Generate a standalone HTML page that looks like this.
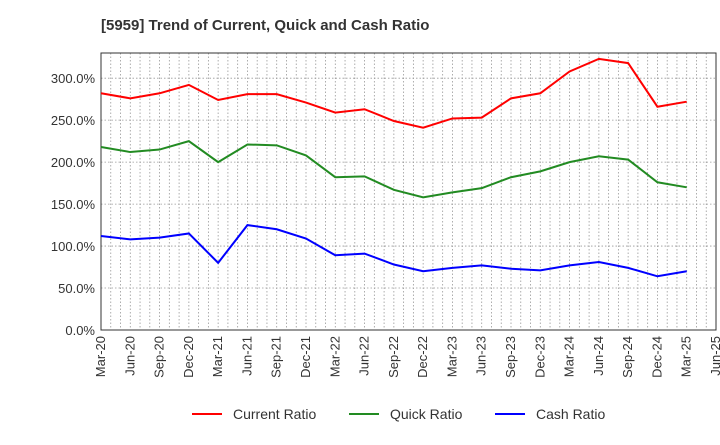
<!DOCTYPE html>
<html><head><meta charset="utf-8"><style>
body{margin:0;background:#fff;font-family:"Liberation Sans",Arial,sans-serif}
</style></head><body>
<svg id="chart" width="720" height="440" xmlns="http://www.w3.org/2000/svg" font-family="Liberation Sans, Arial, sans-serif">
<text x="101" y="30" font-size="15" font-weight="bold" fill="#333">[5959]  Trend of Current, Quick and Cash Ratio</text>
<g id="grid"></g><g id="axes"></g><g id="series"></g>
<g>
<line x1="192" y1="414" x2="222" y2="414" stroke="#f00" stroke-width="2"/><text x="233" y="419" font-size="14" fill="#333">Current Ratio</text>
<line x1="349" y1="414" x2="379" y2="414" stroke="#228b22" stroke-width="2"/><text x="390" y="419" font-size="14" fill="#333">Quick Ratio</text>
<line x1="495" y1="414" x2="525" y2="414" stroke="#00f" stroke-width="2"/><text x="536" y="419" font-size="14" fill="#333">Cash Ratio</text>
</g>
</svg>
<script>
const xLabels=["Mar-20","Jun-20","Sep-20","Dec-20","Mar-21","Jun-21","Sep-21","Dec-21","Mar-22","Jun-22","Sep-22","Dec-22","Mar-23","Jun-23","Sep-23","Dec-23","Mar-24","Jun-24","Sep-24","Dec-24","Mar-25","Jun-25"];
const yTicks=[0,50,100,150,200,250,300];
const currentRatio=[282,276,282,292,274,281,281,271,259,263,249,241,252,253,276,282,308,323,318,266,272];
const quickRatio=[218,212,215,225,200,221,220,208,182,183,167,158,164,169,182,189,200,207,203,176,170];
const cashRatio=[112,108,110,115,80,125,120,109,89,91,78,70,74,77,73,71,77,81,74,64,70];
const L=101,R=716,T=53,B=330,yMax=330;
const NS="http://www.w3.org/2000/svg";
const xs=i=>L+(R-L)*i/(xLabels.length-1);
const ys=v=>B-(B-T)*v/yMax;
function mk(tag,attrs,parent){const e=document.createElementNS(NS,tag);for(const k in attrs)e.setAttribute(k,attrs[k]);document.getElementById(parent).appendChild(e);return e;}
for(let m=1;m<(xLabels.length-1)*3;m++){const x=L+(R-L)*m/((xLabels.length-1)*3);
const g=mk("line",{x1:x,x2:x,y1:T,y2:B,stroke:"#999","stroke-dasharray":"1.5,2","stroke-width":0.8},"grid");

}
yTicks.forEach(v=>{const y=ys(v);
const g=mk("line",{x1:L,x2:R,y1:y,y2:y,stroke:"#999","stroke-dasharray":"1.5,2","stroke-width":0.8},"grid");


const t=mk("text",{x:L-6,y:y+5,"text-anchor":"end","font-size":13,fill:"#333"},"axes");t.textContent=v.toFixed(1)+"%";

});
const f=mk("rect",{x:L,y:T,width:R-L,height:B-T,fill:"none",stroke:"#333","stroke-width":1},"axes");


xLabels.forEach((s,i)=>{const x=xs(i);
const t=mk("text",{x:0,y:0,"text-anchor":"end","font-size":13,fill:"#333",transform:`translate(${x+4},${B+6}) rotate(-90)`},"axes");t.textContent=s;

});
[[currentRatio,"#f00","current-ratio-line"],[quickRatio,"#228b22","quick-ratio-line"],[cashRatio,"#00f","cash-ratio-line"]].forEach(([d,c,n])=>{
const p=mk("polyline",{points:d.map((v,i)=>xs(i)+","+ys(v)).join(" "),fill:"none",stroke:c,"stroke-width":2},"series");

});
</script>
</body></html>
